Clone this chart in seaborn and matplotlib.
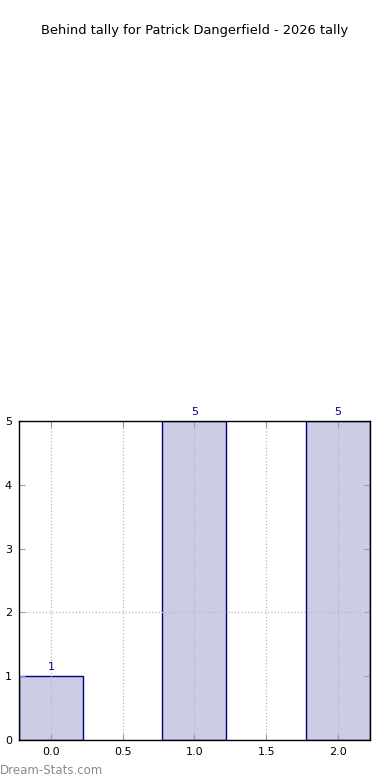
import matplotlib
matplotlib.use("Agg")
import matplotlib.pyplot as plt
import seaborn as sns
import pandas as pd

behinds = [0, 1, 2]
counts = [1, 5, 5]
xticks = [0.0, 0.5, 1.0, 1.5, 2.0]
yticks = [0, 1, 2, 3, 4, 5]
title = "Behind tally for Patrick Dangerfield - 2026 tally"

sns.set_style("white")
plt.rcParams['font.family'] = ['DejaVu Sans']

df = pd.DataFrame({"behinds": behinds, "count": counts})

fig = plt.figure(figsize=(3.9, 7.8), dpi=100)
ax = fig.add_axes([0.0487, 0.0513, 0.9, 0.4090])

sns.barplot(data=df, x="behinds", y="count", native_scale=True, width=0.446,
            color=(0.8, 0.8, 0.898), edgecolor="navy", linewidth=1.0,
            saturation=1, ax=ax, zorder=2)

for p, c in zip(ax.patches, counts):
    ax.text(p.get_x() + p.get_width() / 2, p.get_height() + 0.06, str(c),
            ha="center", va="bottom", fontsize=8, color="navy")

ax.set_xlim(-0.223, 2.223)
ax.set_ylim(0, 5)
ax.set_xticks(xticks)
ax.set_xticklabels([f"{t:.1f}" for t in xticks])
ax.set_yticks(yticks)
ax.set_xlabel("")
ax.set_ylabel("")
ax.grid(False)
ax.xaxis.grid(True, linestyle=":", color="#b8b8b8", linewidth=0.9, zorder=3)
ax.axhline(2, linestyle=":", color="#b8b8b8", linewidth=0.9, zorder=3)
ax.set_axisbelow(False)
for s in ax.spines.values():
    s.set_visible(True)
    s.set_color("black")
    s.set_linewidth(1.0)
    s.set_zorder(5)
ax.tick_params(axis="both", direction="in", length=4, width=0.8, labelsize=8,
               top=True, right=True, bottom=True, left=True, colors="#999999",
               labelcolor="black", pad=5)

fig.text(0.5, 0.961, title, ha="center", va="center", fontsize=9.4, color="black")
fig.text(0.0, 0.0128, "Dream-Stats.com", ha="left", va="center", fontsize=8.5,
         color="#8a8a8a")

fig.savefig("out.png", dpi=100)
